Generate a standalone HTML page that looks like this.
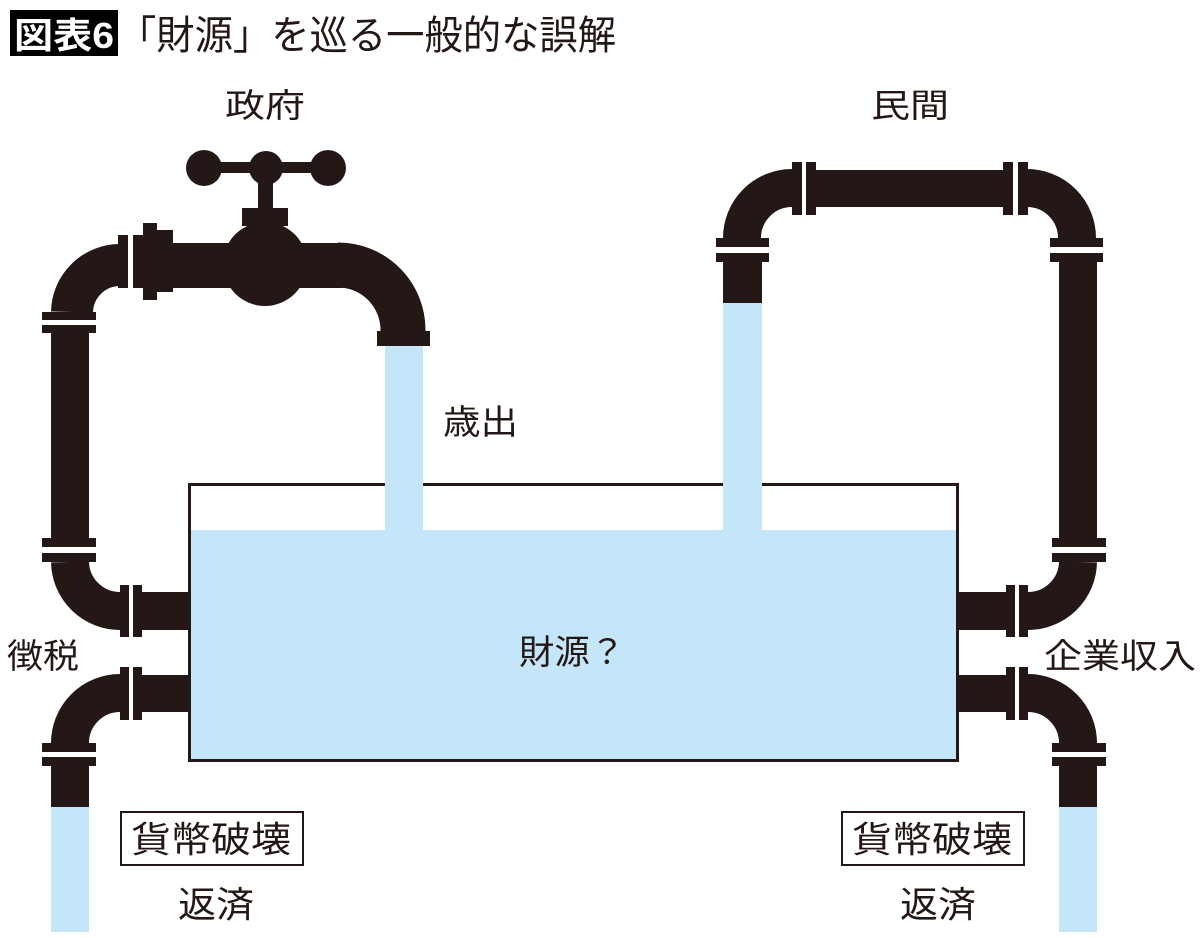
<!DOCTYPE html>
<html><head><meta charset="utf-8"><style>
html,body{margin:0;padding:0;background:#fff;width:1200px;height:938px;overflow:hidden}
svg{display:block}
text{font-family:"Liberation Sans","Noto Sans CJK JP",sans-serif;fill:#231815}
</style></head><body>
<svg width="1200" height="938" viewBox="0 0 1200 938">
<defs>
<g id="lowerpipes" fill="#231815">
  <rect x="42" y="538" width="54" height="9"/>
  <rect x="42" y="553" width="54" height="9"/>
  <path d="M70,562 A50,50 0 0 0 120,611" fill="none" stroke="#231815" stroke-width="38"/>
  <rect x="120" y="585" width="9" height="52"/>
  <rect x="133" y="585" width="9" height="52"/>
  <rect x="142" y="592" width="48" height="38"/>
  <rect x="120" y="667" width="9" height="53"/>
  <rect x="133" y="667" width="9" height="53"/>
  <rect x="142" y="675" width="48" height="37"/>
  <path d="M120,693 A50,50 0 0 0 70,743" fill="none" stroke="#231815" stroke-width="38"/>
  <rect x="42" y="743" width="54" height="9"/>
  <rect x="42" y="757" width="54" height="9"/>
  <rect x="51" y="766" width="38" height="41"/>
  <rect x="51" y="807" width="38" height="125" fill="#c5e5f8"/>
</g>
</defs>

<rect x="10" y="10" width="108" height="46" fill="#000"/>
<text x="14" y="48" font-size="36" font-weight="bold" textLength="100" lengthAdjust="spacingAndGlyphs" style="fill:#fff">図表6</text>
<text x="118" y="49" font-size="40" textLength="498" lengthAdjust="spacingAndGlyphs">「財源」を巡る一般的な誤解</text>

<rect x="189.5" y="484.5" width="768" height="276" fill="#fff" stroke="#231815" stroke-width="3"/>
<rect x="191" y="530" width="765" height="229" fill="#c5e5f8"/>
<rect x="385" y="346" width="38" height="186" fill="#c5e5f8"/>
<rect x="723" y="303" width="39" height="229" fill="#c5e5f8"/>

<use href="#lowerpipes"/>
<use href="#lowerpipes" transform="translate(1148,0) scale(-1,1)"/>

<g fill="#231815">
  <rect x="51" y="333" width="38" height="205"/>
  <rect x="42" y="312" width="54" height="8"/>
  <rect x="42" y="325" width="54" height="8"/>
  <path d="M72,312 A48,48 0 0 1 120,265" fill="none" stroke="#231815" stroke-width="42"/>
  <rect x="118" y="235" width="10" height="53"/>
  <rect x="133" y="235" width="10" height="53"/>
  <rect x="143" y="223" width="14" height="77"/>
  <rect x="157" y="230" width="16" height="62"/>
  <rect x="173" y="243" width="170" height="45"/>
  <path d="M338,265 A65,65 0 0 1 403,330 L403,333" fill="none" stroke="#231815" stroke-width="45"/>
  <rect x="377" y="331" width="53" height="15"/>
  <circle cx="265" cy="264" r="42"/>
  <rect x="242" y="208" width="46" height="18"/>
  <rect x="258" y="165" width="15" height="45"/>
  <rect x="200" y="162" width="130" height="11"/>
  <circle cx="204" cy="168" r="18"/>
  <circle cx="266" cy="168" r="17"/>
  <circle cx="328" cy="168" r="18"/>

  <rect x="723" y="262" width="39" height="41"/>
  <rect x="716" y="238" width="53" height="9"/>
  <rect x="716" y="253" width="53" height="9"/>
  <path d="M742,238 A50,50 0 0 1 792,188" fill="none" stroke="#231815" stroke-width="38"/>
  <rect x="792" y="162" width="10" height="53"/>
  <rect x="806" y="162" width="10" height="53"/>
  <rect x="816" y="170" width="187" height="37"/>
  <rect x="1003" y="162" width="10" height="53"/>
  <rect x="1018" y="162" width="10" height="53"/>
  <path d="M1027,188 A50,50 0 0 1 1077,238" fill="none" stroke="#231815" stroke-width="38"/>
  <rect x="1050" y="238" width="53" height="9"/>
  <rect x="1050" y="253" width="53" height="9"/>
  <rect x="1059" y="262" width="38" height="276"/>
</g>

<text x="225" y="117" font-size="33" textLength="80" lengthAdjust="spacingAndGlyphs">政府</text>
<text x="871" y="117" font-size="33" textLength="78" lengthAdjust="spacingAndGlyphs">民間</text>
<text x="443" y="434" font-size="34" textLength="75" lengthAdjust="spacingAndGlyphs">歳出</text>
<text x="7" y="668" font-size="34" textLength="72" lengthAdjust="spacingAndGlyphs">徴税</text>
<text x="1044" y="668" font-size="34" textLength="152" lengthAdjust="spacingAndGlyphs">企業収入</text>
<text x="519" y="664" font-size="34" textLength="106" lengthAdjust="spacingAndGlyphs">財源？</text>
<rect x="121" y="812" width="182" height="53" fill="#fff" stroke="#231815" stroke-width="2"/>
<text x="131" y="852" font-size="36" textLength="160" lengthAdjust="spacingAndGlyphs">貨幣破壊</text>
<rect x="842" y="812" width="182" height="53" fill="#fff" stroke="#231815" stroke-width="2"/>
<text x="852" y="852" font-size="36" textLength="160" lengthAdjust="spacingAndGlyphs">貨幣破壊</text>
<text x="178" y="917" font-size="36" textLength="76" lengthAdjust="spacingAndGlyphs">返済</text>
<text x="900" y="917" font-size="36" textLength="76" lengthAdjust="spacingAndGlyphs">返済</text>
</svg>
</body></html>
